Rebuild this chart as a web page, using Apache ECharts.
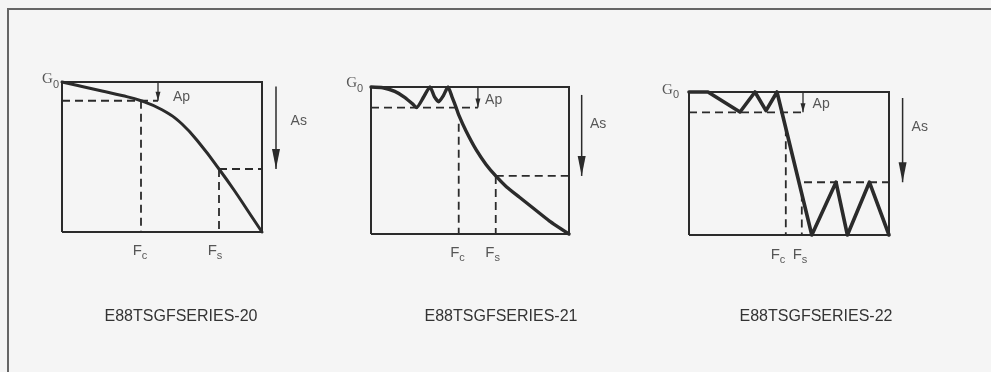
<!DOCTYPE html>
<html>
<head>
<meta charset="utf-8">
<script src="https://cdn.jsdelivr.net/npm/echarts@6/dist/echarts.min.js"></script>
<style>
html, body { margin: 0; padding: 0; background: #f5f5f5; }
#main { width: 991px; height: 372px; }
</style>
</head>
<body>
<div id="main"></div>
<script>
// x = frequency (0..100 across the box), y = gain (0 = bottom, 100 = G0)
var butterworth = [[0, 100], [10, 97], [20, 94], [30, 91], [39.5, 87.5], [50, 81.5], [60, 72], [70, 57], [78.5, 42], [86, 28], [93, 14], [100, 0]];
var chebyshev = [[0, 100], [6, 99.5], [12, 97], [17, 93], [21, 88.5], [23, 86], [26.5, 93], [29.8, 100], [32, 93.5], [34.2, 90], [36.5, 94], [38.9, 100], [41, 93], [43, 86], [44.3, 81], [48, 70], [53, 57.5], [58, 47.5], [63, 39.5], [68.5, 32], [75, 25], [82, 17.5], [90, 9], [100, 0]];
var elliptic = [[0, 100], [9.5, 100], [25.5, 86], [33, 100], [38.5, 87], [44, 100], [61.4, 0], [73.5, 36.9], [79.2, 0], [90.2, 36.9], [100, 0]];

var apLevels = [87.5, 86, 85.8];
var fcFreqs = [39.5, 44.3, 48.4];
var fcTop = [87.5, 75, 74.7];
var fsFreqs = [78.5, 63, 56.4];
var fsTop = [42, 39.5, 29];
var fsLevels = [42, 39.5, 36.9];
var fsDashStart = [78.5, 63, 57.5];
var apArrowX = [48, 54, 57];
var asArrowX = [107, 106.4, 106.8];
var asArrowTop = [97, 94.6, 95.8];

var g0Labels = [[-1.5, 101.3], [-4, 102], [-5, 101]];
var apLabels = [[55.5, 90], [57.6, 91], [61.8, 91.6]];
var asLabels = [[114.3, 74.2], [110.6, 74.8], [111.3, 75.7]];
var fcLabelX = [39, 43.7, 44.5];
var fsLabelX = [76.5, 61.4, 55.5];
var freqLabelY = [-12.7, -13, -14];
var figureCodes = ['E88TSGFSERIES-20', 'E88TSGFSERIES-21', 'E88TSGFSERIES-22'];

var ink = '#2b2b2b';
// pixel box of each response frame; the grid is padded round it so arrows/labels are not clipped
var boxes = [
  { left: 62, top: 82, width: 200, height: 150 },
  { left: 371, top: 87, width: 198, height: 147 },
  { left: 689, top: 92, width: 200, height: 143 }
];
var xMin = -10, xMax = 125, yMin = -20, yMax = 110;
var titleX = [181, 501, 816];

var chart = echarts.init(document.getElementById('main'), null, { renderer: 'canvas' });

function line(gi, pts, style, smooth) {
  return {
    type: 'line', xAxisIndex: gi, yAxisIndex: gi, data: pts,
    symbol: 'none', smooth: smooth || false, clip: false, silent: true,
    lineStyle: style
  };
}
var dash = { color: ink, width: 1.8, type: [8, 5] };

function arrow(gi, x, y1, y2, w, h, lw) {
  return {
    type: 'line', xAxisIndex: gi, yAxisIndex: gi, clip: false, silent: true,
    showSymbol: true, showAllSymbol: true,
    lineStyle: { color: ink, width: lw },
    itemStyle: { color: ink, borderWidth: 0 },
    data: [
      { value: [x, y1], symbol: 'none' },
      { value: [x, y2], symbol: 'path://M0,0L8,0L4,20Z', symbolSize: [w, h], symbolOffset: [0, '-50%'] }
    ]
  };
}

var rich = {
  m: { fontSize: 15, lineHeight: 16, verticalAlign: 'top', color: '#2e2e2e', fontFamily: 'Liberation Sans' },
  g: { fontSize: 15, lineHeight: 16, verticalAlign: 'top', color: '#2e2e2e', fontFamily: 'Liberation Serif' },
  s: { fontSize: 11, lineHeight: 12, verticalAlign: 'top', padding: [7, 0, 0, 0], color: '#2e2e2e', fontFamily: 'Liberation Sans' },
  t: { fontSize: 14, lineHeight: 16, color: '#2e2e2e', fontFamily: 'Liberation Sans' }
};

function texts(gi, items) {
  return {
    type: 'scatter', xAxisIndex: gi, yAxisIndex: gi, clip: false, silent: true,
    symbolSize: 1, itemStyle: { color: 'rgba(0,0,0,0)' },
    data: items.map(function (it) {
      return {
        value: it[0],
        label: { show: true, position: 'inside', formatter: it[1], align: it[2], verticalAlign: 'middle', rich: rich }
      };
    })
  };
}

var curves = [butterworth, chebyshev, elliptic];
var smooths = [0.45, 0.2, false];
var curveWidths = [3, 3.4, 3.6];
var frame = [[0, 0], [0, 100], [100, 100], [100, 0], [0, 0]];
var series = [];
for (var i = 0; i < 3; i++) {
  series.push(line(i, frame, { color: ink, width: 2, join: 'miter' }));
  series.push(line(i, [[0, apLevels[i]], [apArrowX[i], apLevels[i]]], dash));
  series.push(line(i, [[fcFreqs[i], fcTop[i]], [fcFreqs[i], 0]], dash));
  series.push(line(i, [[fsFreqs[i], fsTop[i]], [fsFreqs[i], 0]], dash));
  series.push(line(i, [[fsDashStart[i], fsLevels[i]], [100, fsLevels[i]]], dash));
  series.push(line(i, curves[i], { color: ink, width: curveWidths[i], join: 'round', cap: 'round' }, smooths[i]));
  series.push(arrow(i, apArrowX[i], 100, apLevels[i], 5, 9, 1.3));
  series.push(arrow(i, asArrowX[i], asArrowTop[i], fsLevels[i], 8, 20, 1.5));
  series.push(texts(i, [
    [g0Labels[i], '{g|G}{s|0}', 'right'],
    [apLabels[i], '{t|Ap}', 'left'],
    [asLabels[i], '{t|As}', 'left'],
    [[fcLabelX[i], freqLabelY[i]], '{m|F}{s|c}', 'center'],
    [[fsLabelX[i], freqLabelY[i]], '{m|F}{s|s}', 'center']
  ]));
}

var option = {
  backgroundColor: '#f5f5f5',
  animation: false,
  grid: boxes.map(function (b) {
    var ux = b.width / 100, uy = b.height / 100;
    return {
      left: b.left + xMin * ux, top: b.top - (yMax - 100) * uy,
      width: (xMax - xMin) * ux, height: (yMax - yMin) * uy,
      show: false
    };
  }),
  xAxis: boxes.map(function (b, i) { return { type: 'value', gridIndex: i, min: xMin, max: xMax, show: false }; }),
  yAxis: boxes.map(function (b, i) { return { type: 'value', gridIndex: i, min: yMin, max: yMax, show: false }; }),
  graphic: [
    { type: 'rect', shape: { x: 8, y: 9, width: 990, height: 400 }, style: { fill: 'none', stroke: '#666', lineWidth: 2 }, silent: true }
  ].concat(figureCodes.map(function (t, i) {
    return {
      type: 'text', x: titleX[i], y: 317, silent: true,
      style: { text: t, font: '16px "Liberation Sans"', fill: '#333', align: 'center', verticalAlign: 'middle', textAlign: 'center', textVerticalAlign: 'middle' }
    };
  })),
  series: series
};
chart.setOption(option);
</script>
</body>
</html>
